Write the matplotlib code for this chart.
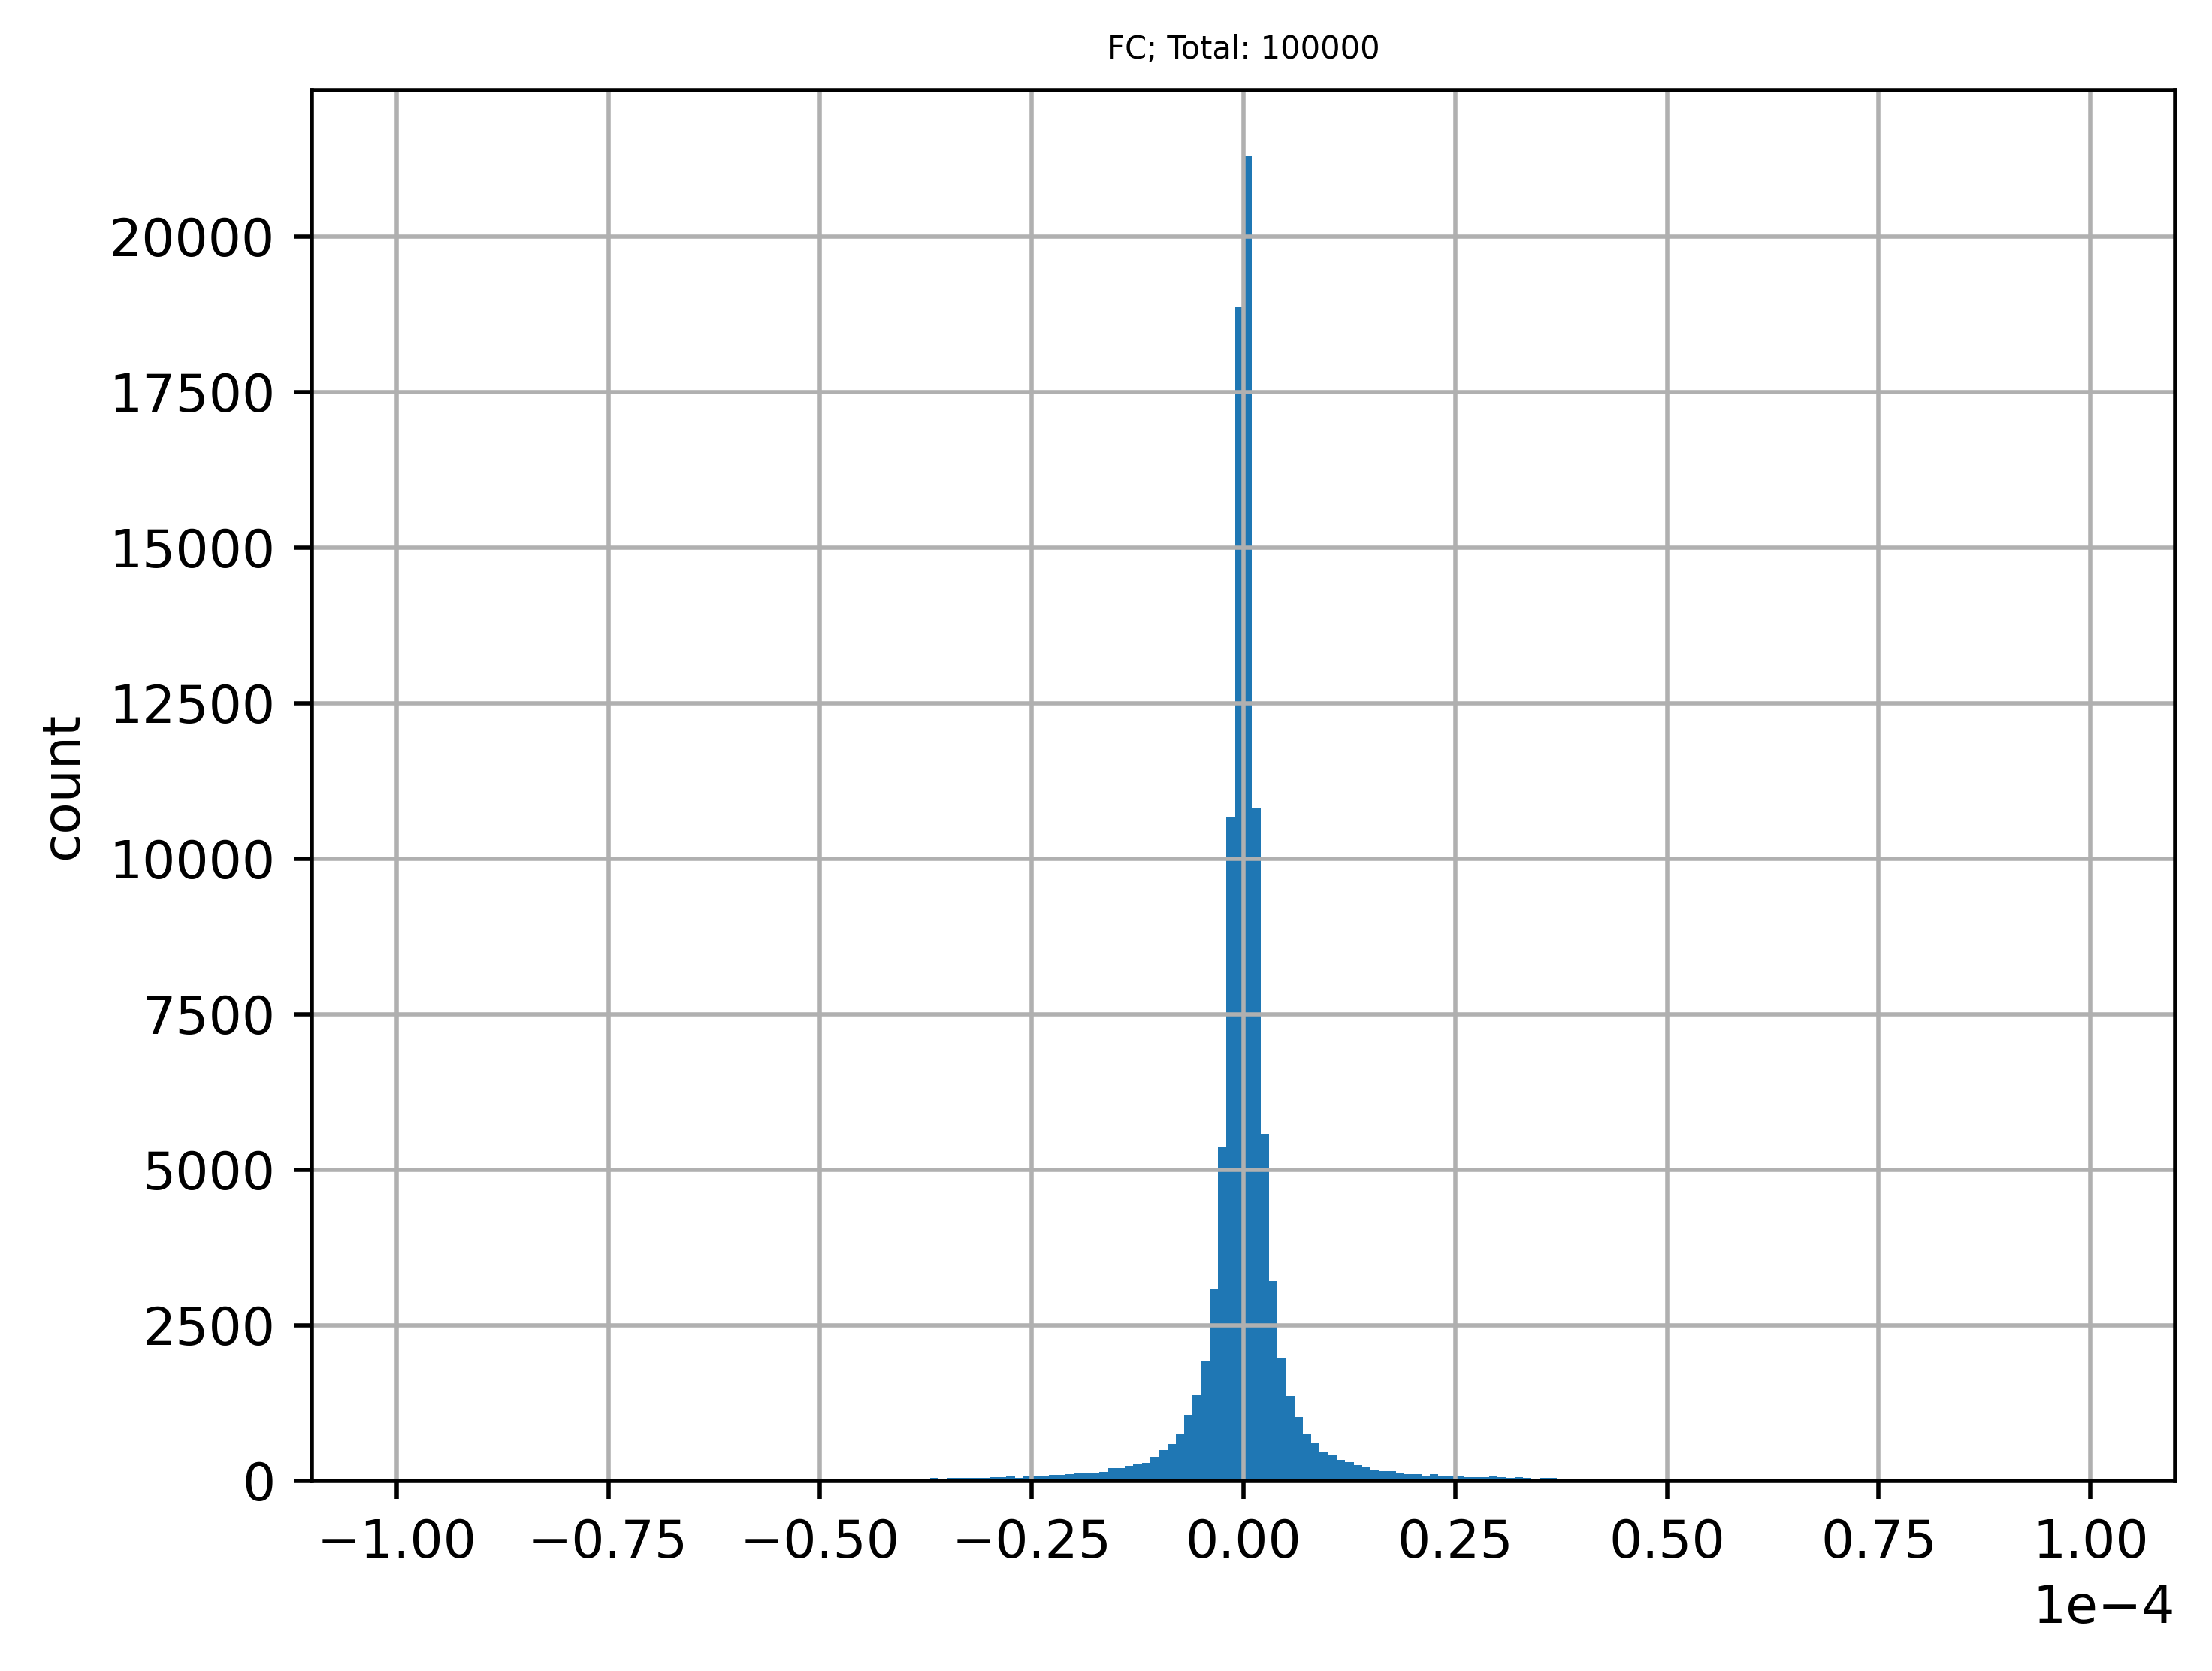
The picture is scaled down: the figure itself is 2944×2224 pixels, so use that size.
import numpy as np
import matplotlib
matplotlib.use("Agg")
import matplotlib.pyplot as plt

# histogram of FC values, 200 bins between -1e-4 and 1e-4
n_bins = 200
x_min = -1e-4
x_max = 1e-4

# lower edge of each non-empty bin (in units of 1e-4) and its count
bin_lo = [-0.37, -0.36, -0.35, -0.34, -0.33, -0.32, -0.31, -0.30, -0.29, -0.28,
          -0.27, -0.26, -0.25, -0.24, -0.23, -0.22, -0.21, -0.20, -0.19, -0.18,
          -0.17, -0.16, -0.15, -0.14, -0.13, -0.12, -0.11, -0.10, -0.09, -0.08,
          -0.07, -0.06, -0.05, -0.04, -0.03, -0.02, -0.01,
          0.00, 0.01, 0.02, 0.03, 0.04, 0.05, 0.06, 0.07, 0.08, 0.09,
          0.10, 0.11, 0.12, 0.13, 0.14, 0.15, 0.16, 0.17, 0.18, 0.19,
          0.20, 0.21, 0.22, 0.23, 0.24, 0.25, 0.26, 0.27, 0.28, 0.29,
          0.30, 0.31, 0.32, 0.33, 0.34, 0.35, 0.36]
counts = [46, 24, 46, 46, 46, 46, 46, 58, 58, 70,
          46, 70, 82, 82, 95, 95, 107, 131, 119, 119,
          143, 203, 203, 238, 262, 290, 383, 491, 588, 749,
          1059, 1373, 1917, 3076, 5359, 10660, 18882,
          21290, 10806, 5576, 3209, 1965, 1361, 1023, 749, 612, 455,
          423, 334, 300, 250, 228, 179, 155, 155, 119, 107,
          107, 82, 107, 82, 82, 82, 58, 58, 58, 70,
          58, 46, 58, 46, 26, 46, 46]
total = 100000

edges = np.linspace(x_min, x_max, n_bins + 1)
centers = (np.array(bin_lo) + 0.005) * 1e-4

fig = plt.figure(figsize=(2944 / 500, 2224 / 500), dpi=500)
ax = fig.add_axes([415 / 2944, 1 - 1971 / 2224,
                   (2895 - 415) / 2944, (1971 - 120) / 2224])

ax.hist(centers, bins=edges, weights=counts, color='#1f77b4')
ax.grid(True)
ax.ticklabel_format(axis='x', style='sci', scilimits=(0, 0))
ax.set_ylabel('count')
ax.set_title('FC; Total: ' + str(total), fontsize=6)

fig.savefig('out.png', dpi=500)
